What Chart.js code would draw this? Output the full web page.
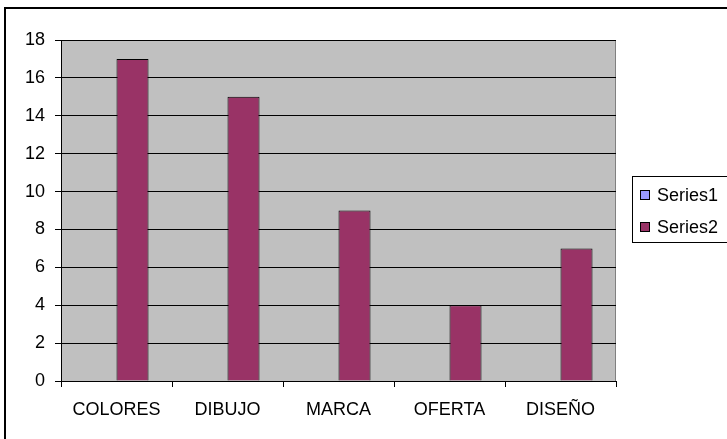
<!DOCTYPE html>
<html>
<head>
<meta charset="utf-8">
<script src="https://cdn.jsdelivr.net/npm/chart.js@4/dist/chart.umd.min.js"></script>
<style>
html,body{margin:0;padding:0;background:#fff;}
canvas{display:block;}
</style>
</head>
<body>
<canvas id="c" width="727" height="439"></canvas>
<script>
const categories = ['COLORES', 'DIBUJO', 'MARCA', 'OFERTA', 'DISEÑO'];
const series1Values = [null, null, null, null, null];
const series2Values = [17, 15, 9, 4, 7];
const seriesNames = ['Series1', 'Series2'];
const yTicks = { min: 0, max: 18, step: 2 };

const FONT = 'Liberation Sans, Arial, sans-serif';

const frame = {
  id: 'frame',
  beforeDraw(chart) {
    const { ctx, chartArea: a } = chart;
    ctx.save();
    ctx.fillStyle = '#fff';
    ctx.fillRect(0, 0, chart.width, chart.height);
    ctx.fillStyle = '#C0C0C0';
    ctx.fillRect(a.left, a.top, a.right - a.left, a.bottom - a.top);
    ctx.strokeStyle = '#808080';
    ctx.lineWidth = 1;
    ctx.strokeRect(a.left + 0.5, a.top + 0.5, a.right - a.left - 1, a.bottom - a.top);
    ctx.restore();
  },
  afterDraw(chart) {
    const { ctx } = chart;
    ctx.save();
    // outer border
    ctx.strokeStyle = '#000';
    ctx.lineWidth = 2;
    ctx.strokeRect(5, 8, 740, 450);
    // legend
    ctx.lineWidth = 1;
    ctx.strokeStyle = '#000';
    ctx.strokeRect(632.5, 176.5, 110, 66);
    ctx.font = '18px ' + FONT;
    ctx.textBaseline = 'middle';
    ctx.textAlign = 'left';
    chart.data.datasets.forEach((ds, i) => {
      const y = 195 + i * 32;
      ctx.fillStyle = ds.backgroundColor;
      ctx.fillRect(640.5, y - 4.5, 9, 9);
      ctx.strokeStyle = '#000';
      ctx.strokeRect(640.5, y - 4.5, 9, 9);
      ctx.fillStyle = '#000';
      ctx.fillText(ds.label, 657, y + 1);
    });
    ctx.restore();
  }
};

new Chart(document.getElementById('c'), {
  type: 'bar',
  data: {
    labels: categories,
    datasets: [
      { label: seriesNames[0], data: series1Values, backgroundColor: '#9999FF', borderColor: '#000', borderWidth: 1, borderSkipped: 'start' },
      { label: seriesNames[1], data: series2Values, backgroundColor: '#993366', borderColor: '#000', borderWidth: 1, borderSkipped: 'start' }
    ]
  },
  options: {
    responsive: false,
    devicePixelRatio: 1,
    animation: false,
    layout: { padding: { left: 0, right: 111, top: 40, bottom: 8 } },
    datasets: { bar: { categoryPercentage: 0.577, barPercentage: 1 } },
    plugins: { legend: { display: false }, tooltip: { enabled: false } },
    scales: {
      x: {
        grid: { display: true, offset: true, drawOnChartArea: false, drawTicks: true, tickLength: 6, color: '#000' },
        border: { display: true, color: '#000', width: 1 },
        ticks: { color: '#000', font: { family: FONT, size: 18 }, padding: 12, maxRotation: 0 },
        afterFit(s) { s.height = 50; }
      },
      y: {
        min: yTicks.min, max: yTicks.max,
        grid: { color: '#000', drawTicks: true, tickLength: 6 },
        border: { display: true, color: '#000', width: 1 },
        ticks: { stepSize: yTicks.step, color: '#000', font: { family: FONT, size: 18 }, padding: 10 },
        afterFit(s) { s.width = 61; }
      }
    }
  },
  plugins: [frame]
});
</script>
</body>
</html>
